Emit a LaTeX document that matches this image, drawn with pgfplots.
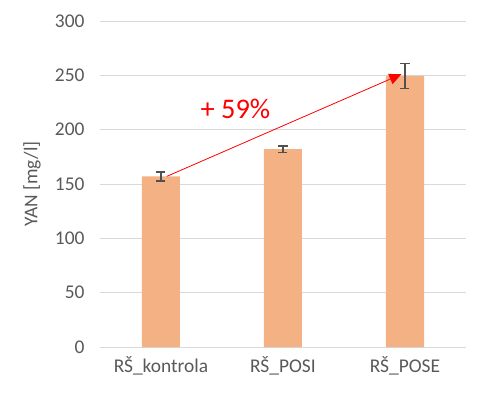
\documentclass[border=0pt]{standalone}
\usepackage{pgfplots}
\pgfplotsset{compat=1.18}
\usepackage{fontspec}
\setmainfont{Carlito}
\usetikzlibrary{arrows.meta}
\definecolor{txt}{HTML}{595959}
\definecolor{grd}{HTML}{D9D9D9}
\definecolor{barc}{HTML}{F4B183}
\definecolor{errc}{HTML}{505050}
\begin{document}
\begin{tikzpicture}
\useasboundingbox (-100bp,-47bp) rectangle (378bp,347bp);
\begin{axis}[
  at={(0,0)}, anchor=south west,
  scale only axis, width=366bp, height=326bp,
  xmin=-0.5, xmax=2.5, ymin=0, ymax=300,
  ytick={0,50,...,300},
  xtick={0,1,2}, xticklabels={RŠ\_kontrola,RŠ\_POSI,RŠ\_POSE},
  axis line style={draw=none},
  axis x line*=bottom,
  x axis line style={draw=grd, line width=1bp},
  major tick length=0pt,
  ymajorgrids, grid style={draw=grd, line width=1bp},
  tick label style={text=txt, font=\fontsize{19.5}{22}\selectfont},
  /pgf/number format/assume math mode=true,
  yticklabel style={xshift=-12bp},
  xticklabel style={yshift=-6bp},
  every axis y label/.style={at={(axis description cs:-0.186,0.5)}, anchor=center, rotate=90},
  ylabel={YAN [mg/l]},
  ylabel style={text=txt, font=\fontsize{19.5}{22}\selectfont},
  clip=false,
]
\addplot[ybar, bar width=38bp, fill=barc, draw=none,
  error bars/.cd, y dir=both, y explicit,
  error bar style={line width=1.7bp, errc},
  error mark options={rotate=90, mark size=4.5bp, line width=1.7bp, errc}]
  table[x=x, y=y, y error=e] {
  x y e
  0 157 4
  1 182 3
  2 249.5 11.5
};
\draw[red, line width=0.8bp, -{Triangle[length=12bp,width=11bp]}] (axis cs:0.047,157) -- (axis cs:1.97,251);
\node[text=red, font=\fontsize{28.5}{32}\selectfont] at (axis cs:0.61,219) {+ 59\%};
\end{axis}
\end{tikzpicture}
\end{document}
